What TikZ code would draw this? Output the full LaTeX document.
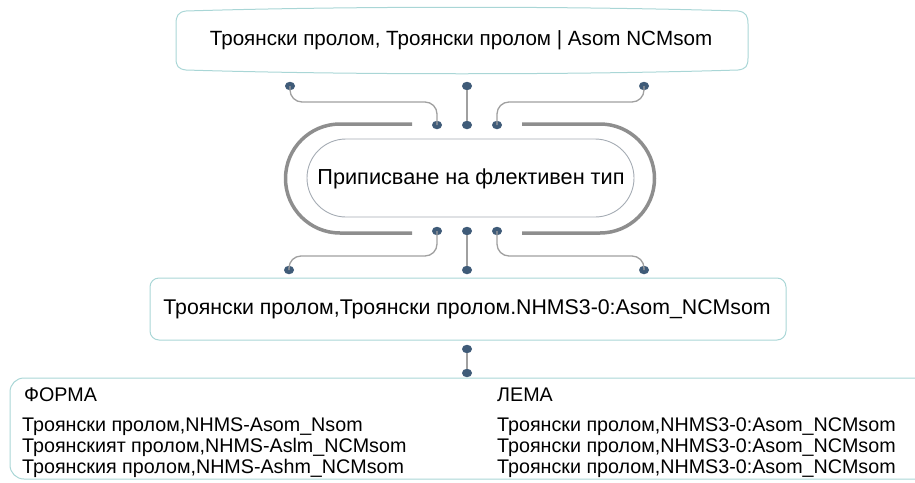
\documentclass[tikz,border=0pt]{standalone}
\usepackage{fontspec}
\setmainfont{Liberation Sans}
\usetikzlibrary{shapes.geometric}
\definecolor{boxline}{HTML}{A9D6D6}
\definecolor{dotc}{HTML}{3F5B78}
\definecolor{wire}{HTML}{A0A0A0}
\definecolor{ovalc}{HTML}{8E8E8E}
\definecolor{innerc}{HTML}{A4ABB3}
\tikzset{
  dotn/.style={ellipse,fill=dotc,inner sep=0pt,minimum width=10pt,minimum height=8.5pt},
  wirel/.style={draw=wire,line width=1.3pt,rounded corners=12pt},
  topfont/.style={font=\fontsize{20.6}{24}\selectfont},
  resfont/.style={font=\fontsize{21.3}{24}\selectfont},
  midfont/.style={font=\fontsize{21.7}{24}\selectfont},
  smallfont/.style={font=\fontsize{19.7}{22}\selectfont},
}
\begin{document}
\begin{tikzpicture}[x=1pt,y=-1pt]
\useasboundingbox (0,0) rectangle (915,482);
% top box
\draw[boxline,line width=1pt] (186,11) .. controls (350,6) and (574,6) .. (738,11)
  .. controls (746,12) and (748,16) .. (748,24) -- (748,58)
  .. controls (748,66) and (746,69) .. (738,70)
  .. controls (574,75) and (350,75) .. (186,70)
  .. controls (178,69) and (176,66) .. (176,58) -- (176,24)
  .. controls (176,16) and (178,12) .. cycle;
\node[topfont,inner sep=0pt] (top) at (461,40) {Троянски пролом, Троянски пролом | Asom NCMsom};
% dots top row
\node[dotn] (t1) at (290,86) {};
\node[dotn] (t2) at (467,86) {};
\node[dotn] (t3) at (644,86) {};
\node[dotn] (o1) at (437,125) {};
\node[dotn] (o2) at (467,125) {};
\node[dotn] (o3) at (497,125) {};
\draw[wirel] (t1.center) -- (290,102) -- (437,102) -- (o1.center);
\draw[wirel] (t3.center) -- (644,102) -- (497,102) -- (o3.center);
\draw[wire,line width=1.3pt] (t2) -- (o2);
% outer oval
\draw[ovalc,line width=3.5pt] (412,124) -- (340,124) arc[start angle=90,end angle=270,radius=54.5pt] -- (412,233);
\draw[ovalc,line width=3.5pt] (522,124) -- (600,124) arc[start angle=90,end angle=-90,radius=54.5pt] -- (522,233);
% inner oval
\draw[innerc,line width=0.9pt,rounded corners=39pt] (307,139) rectangle (634,217);
\node[midfont,inner sep=0pt] (mid) at (471,179) {Приписване на флективен тип};
% bottom dots of oval
\node[dotn] (b1) at (437,231) {};
\node[dotn] (b2) at (467,231) {};
\node[dotn] (b3) at (497,231) {};
\node[dotn] (c1) at (289,270) {};
\node[dotn] (c2) at (467,270) {};
\node[dotn] (c3) at (644,270) {};
\draw[wirel] (b1.center) -- (437,256) -- (289,256) -- (c1.center);
\draw[wirel] (b3.center) -- (497,256) -- (644,256) -- (c3.center);
\draw[wire,line width=1.3pt] (b2) -- (c2);
% box2
\draw[boxline,line width=1pt,rounded corners=9pt] (150,278) rectangle (786,340);
\node[resfont,inner sep=0pt] (res) at (467,309) {Троянски пролом,Троянски пролом.NHMS3-0:Asom\_NCMsom};
\node[dotn] (d1) at (467,349) {};
\node[dotn] (d2) at (467,373) {};
\draw[wire,line width=1.3pt] (d1) -- (d2);
% bottom table box
\begin{scope}
\clip (0,0) rectangle (915,482);
\draw[boxline,line width=1pt,rounded corners=14pt] (10,378) rectangle (930,479);
\end{scope}
\node[smallfont,anchor=base west,inner sep=0pt] (fh) at (24,401) {ФОРМА};
\node[smallfont,anchor=base west,inner sep=0pt] (f1) at (22,431) {Троянски пролом,NHMS-Asom\_Nsom};
\node[smallfont,anchor=base west,inner sep=0pt] (f2) at (22,452) {Троянският пролом,NHMS-Aslm\_NCMsom};
\node[smallfont,anchor=base west,inner sep=0pt] (f3) at (22,473) {Троянския пролом,NHMS-Ashm\_NCMsom};
\node[smallfont,anchor=base west,inner sep=0pt] (lh) at (497,401) {ЛЕМА};
\node[smallfont,anchor=base west,inner sep=0pt] (l1) at (497,431) {Троянски пролом,NHMS3-0:Asom\_NCMsom};
\node[smallfont,anchor=base west,inner sep=0pt] (l2) at (497,452) {Троянски пролом,NHMS3-0:Asom\_NCMsom};
\node[smallfont,anchor=base west,inner sep=0pt] (l3) at (497,473) {Троянски пролом,NHMS3-0:Asom\_NCMsom};
\end{tikzpicture}
\end{document}
